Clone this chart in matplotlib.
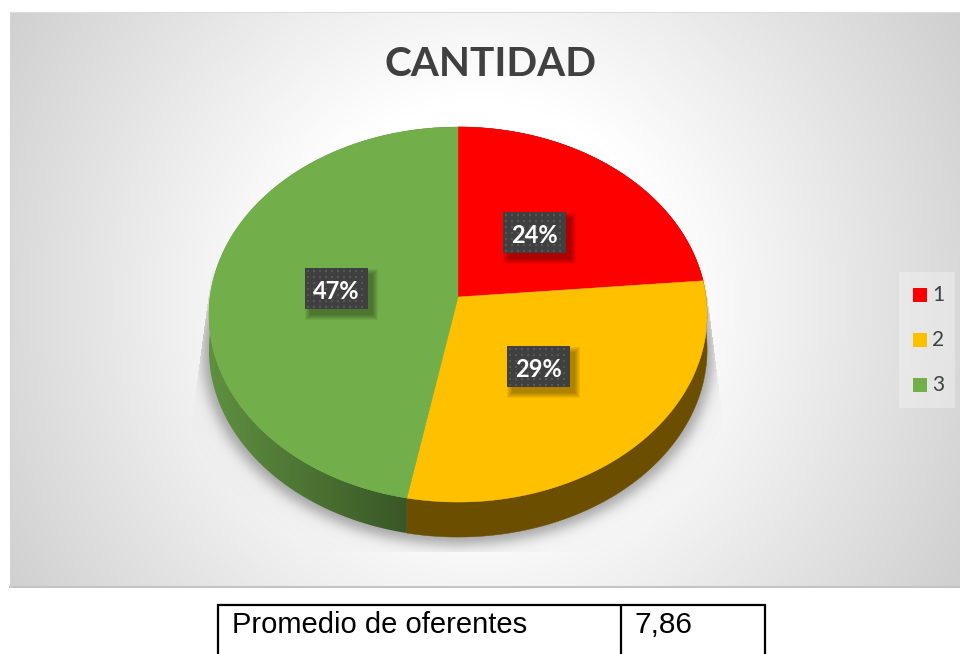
import numpy as np
import matplotlib
matplotlib.use("Agg")
import matplotlib.pyplot as plt
from matplotlib.patches import Polygon, Rectangle
from matplotlib.path import Path

categories = ["1", "2", "3"]
values = [23.6, 29.4, 47.0]
colors = ["#FF0000", "#FFC000", "#72AF4A"]
wall_colors = ["#7a0000", "#6B4E00", "#3f6428"]
title = "CANTIDAD"
table_label = "Promedio de oferentes"
table_value = "7,86"

W, H = 960, 654
fig = plt.figure(figsize=(W / 100, H / 100), dpi=100, facecolor="white")
ax = fig.add_axes([0, 0, 1, 1])
ax.set_xlim(0, W)
ax.set_ylim(H, 0)
ax.axis("off")

CX, CY = 458.0, 297.0
A, B, K = 248.0, 185.9, 0.0934
DEPTH = 35.0


def project(theta, r=1.0):
    X, Y = r * np.cos(theta), r * np.sin(theta)
    w = 1 + K * Y
    return CX + A * X / w, CY - B * Y / w


def blur(img, sigma):
    n = int(3 * sigma)
    k = np.exp(-0.5 * (np.arange(-n, n + 1) / sigma) ** 2)
    k /= k.sum()
    img = np.apply_along_axis(lambda v: np.convolve(v, k, mode="same"), 0, img)
    return np.apply_along_axis(lambda v: np.convolve(v, k, mode="same"), 1, img)


# Background gradient panel
L, R, T, Bt = 10, 960, 12, 587
yy, xx = np.mgrid[T:Bt, L:R]
d = np.sqrt(((xx - 480) / 475.0) ** 2 + ((yy - 300) / 500.0) ** 2)
v = (255 - 38 * np.clip((d - 0.4) / 0.6, 0, None)) / 255
ax.imshow(np.dstack([v, v, v]), extent=(L, R, Bt, T), zorder=0,
          aspect="auto", interpolation="bilinear")
ax.plot([L, R], [Bt, Bt], color="#c4c4c4", lw=1.5, zorder=1)
ax.plot([L, R], [T, T], color="#dcdcdc", lw=0.8, zorder=1)
ax.plot([L, L], [T, Bt], color="#d4d4d4", lw=0.8, zorder=1)

# Slice angles
fr = np.cumsum([0] + values) / np.sum(values)
angles = np.pi / 2 - 2 * np.pi * fr

# Pie shadow
full = np.linspace(0, 2 * np.pi, 360)
ox, oy = project(full, 1.025)
path = Path(np.column_stack([ox, oy + DEPTH + 2]))
gy, gx = np.mgrid[0:H, 0:W]
pts = np.column_stack([gx.ravel() + 0.5, gy.ravel() + 0.5])
mask = path.contains_points(pts).reshape(H, W).astype(float)
trap = Path([(212, 270), (704, 270), (723, 420), (723, 552), (192, 552), (192, 420)])
clip_mask = trap.contains_points(pts).reshape(H, W)
rgba = np.zeros((H, W, 4))
rgba[..., :3] = 0.35
rgba[..., 3] = np.where(clip_mask, 0.45 * blur(mask, 6.0) + 0.10 * blur(mask, 18.0), 0)
ax.imshow(rgba, extent=(0, W, H, 0), zorder=1.5, aspect="auto")
ax.set_xlim(0, W)
ax.set_ylim(H, 0)

# Side walls
for i in range(len(values)):
    th = np.linspace(angles[i], angles[i + 1], 200)
    x, y = project(th)
    wall = np.column_stack([np.r_[x, x[::-1]], np.r_[y, y[::-1] + DEPTH]])
    if categories[i] == "3":
        wp = Polygon(wall, closed=True, fc="none", ec="none", zorder=2)
        ax.add_patch(wp)
        g = np.linspace(0, 1, 220).reshape(1, -1)
        c0 = np.array([0x5f, 0x90, 0x40]) / 255
        c1 = np.array([0x2f, 0x48, 0x1f]) / 255
        img = (c0[None, None, :] * (1 - g[..., None]) + c1[None, None, :] * g[..., None])
        im = ax.imshow(img, extent=(x.min(), x[-1], y.max() + DEPTH, y.min()),
                       zorder=2, aspect="auto")
        im.set_clip_path(wp)
        ax.set_xlim(0, W)
        ax.set_ylim(H, 0)
    else:
        ax.add_patch(Polygon(wall, closed=True, fc=wall_colors[i], ec=wall_colors[i],
                             lw=0.3, zorder=2))

# Top faces
for i in range(len(values)):
    th = np.linspace(angles[i], angles[i + 1], 200)
    x, y = project(th)
    ax.add_patch(Polygon(np.column_stack([np.r_[CX, x], np.r_[CY, y]]), closed=True,
                         fc=colors[i], ec=colors[i], lw=0.3, zorder=3))

# Data labels
BW, BH = 63, 41
for i in range(len(values)):
    mid = (angles[i] + angles[i + 1]) / 2
    bx, by = project(mid, 0.485)
    bx -= 2.5
    x0, y0 = bx - BW / 2, by - BH / 2
    for k in range(6):
        grow = 5 - k
        ax.add_patch(Rectangle((x0 + 5 - grow, y0 + 6 - grow), BW + 2 * grow, BH + 2 * grow,
                               fc="black", ec="none", alpha=0.06, zorder=4))
    ax.add_patch(Rectangle((x0, y0), BW, BH, fc="#404040", ec="none", zorder=5))
    dx = np.arange(x0 + 3, x0 + BW - 1, 6.0)
    dy = np.arange(y0 + 3, y0 + BH - 1, 6.0)
    mx, my = np.meshgrid(dx, dy)
    ax.scatter(mx.ravel(), my.ravel(), s=2.2, marker="s", c="#565656", linewidths=0, zorder=5.5)
    ax.text(bx, by + 3, f"{values[i]:.0f}%", color="white", fontsize=17, fontweight="bold",
            family="Lato", ha="center", va="center", zorder=6)

# Title
ax.text(491, 64, title, color="#404040", fontsize=29.2, fontweight="bold", family="Lato",
        ha="center", va="center", zorder=6)

# Legend
ax.add_patch(Rectangle((899, 272), 56, 136, fc="white", ec="none", alpha=0.3, zorder=4))
for i, name in enumerate(categories):
    yc = 295 + 45 * i
    ax.add_patch(Rectangle((913, yc - 7), 14, 14, fc=colors[i], ec="none", zorder=5))
    ax.text(932, yc, name, color="#404040", fontsize=15, family="Lato", ha="left",
            va="center", zorder=6)

# Table under the chart
for xs, ys in [([218, 218], [604, 654]), ([621, 621], [604, 654]), ([765, 765], [604, 654]),
               ([217, 766], [605, 605])]:
    ax.plot(xs, ys, color="black", lw=1.6, solid_capstyle="butt", zorder=6)
ax.text(232, 625, table_label, color="black", fontsize=21, family="Liberation Sans",
        ha="left", va="center")
ax.text(635, 625, table_value, color="black", fontsize=21.5, family="Liberation Sans",
        ha="left", va="center")

fig.savefig("out.png", dpi=100, facecolor="white")
